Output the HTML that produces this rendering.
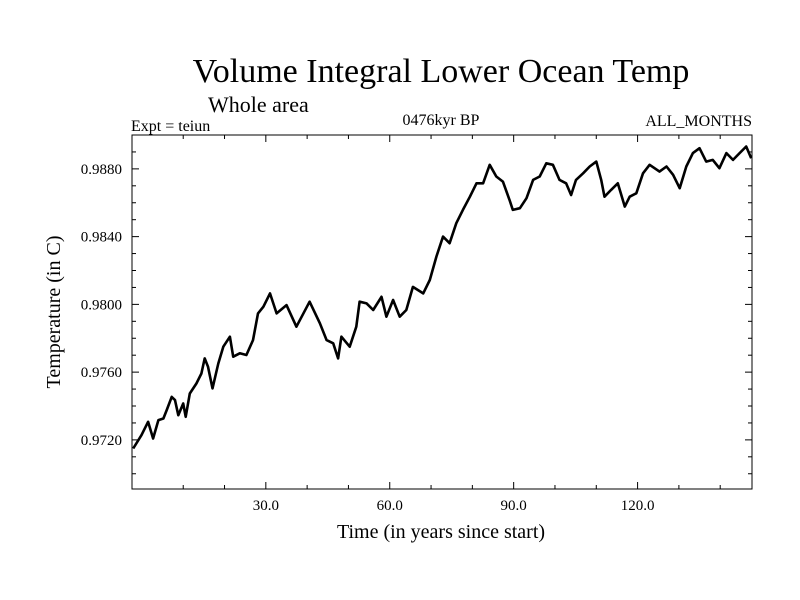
<!DOCTYPE html>
<html><head><meta charset="utf-8"><style>
body{margin:0;background:#fff}
svg{display:block;font-family:"Liberation Serif",serif}
</style></head><body>
<svg id="chart" width="800" height="600" viewBox="0 0 800 600">
<rect width="800" height="600" fill="#fff"/>
<text x="441" y="82" font-size="34" text-anchor="middle">Volume Integral Lower Ocean Temp</text>
<text x="208" y="112" font-size="22">Whole area</text>
<text x="131" y="131" font-size="16">Expt = teiun</text>
<text x="441" y="125" font-size="16" text-anchor="middle">0476kyr BP</text>
<text x="752" y="126" font-size="16" text-anchor="end">ALL_MONTHS</text>
<text x="441" y="538" font-size="20" text-anchor="middle">Time (in years since start)</text>
<text x="0" y="0" font-size="20" text-anchor="middle" transform="translate(60,312) rotate(-90)">Temperature (in C)</text>
<g id="axes"></g>
<path id="series" fill="none" stroke="#000" stroke-width="2.6" stroke-linejoin="round"/>
<rect x="132" y="135" width="620" height="354" fill="none" stroke="#000" stroke-width="1"/>
</svg>
<script>
const times=[-2.1,-0.1,1.5,2.7,4.0,5.2,6.0,7.2,8.0,8.8,10.0,10.6,11.6,13.2,14.4,15.2,16.0,17.1,18.5,19.7,21.3,22.1,23.7,25.3,26.9,28.1,29.4,31.0,32.6,35.0,37.4,40.6,43.1,44.7,46.3,47.5,48.3,50.3,51.9,52.7,54.4,56.0,58.0,59.2,60.8,62.4,64.0,65.6,68.1,69.7,71.3,72.9,74.5,76.1,77.7,79.4,81.0,82.6,84.2,85.8,87.4,89.0,89.8,91.5,93.1,94.7,96.3,97.9,99.5,101.1,102.7,103.9,105.1,106.8,108.4,110.0,111.2,112.0,113.6,115.2,116.9,118.1,119.7,121.3,122.9,125.3,127.0,128.6,130.2,131.8,133.4,135.0,136.6,138.2,139.8,141.5,143.1,144.7,146.3,147.5];
const temps=[0.97149,0.97228,0.97307,0.97208,0.97317,0.97326,0.97376,0.97454,0.97435,0.97346,0.97415,0.97336,0.97474,0.97533,0.97592,0.97681,0.97632,0.97504,0.97651,0.9775,0.97809,0.97691,0.97711,0.97701,0.97789,0.97947,0.97986,0.98065,0.97947,0.97996,0.97868,0.98016,0.97888,0.97789,0.9777,0.97681,0.97809,0.9775,0.97868,0.98016,0.98006,0.97967,0.98045,0.97927,0.98026,0.97927,0.97967,0.98103,0.98065,0.98144,0.98282,0.984,0.98361,0.98479,0.98558,0.98636,0.98715,0.98715,0.98824,0.98755,0.98725,0.98617,0.98558,0.98568,0.98627,0.98735,0.98755,0.98833,0.98824,0.98735,0.98715,0.98646,0.98735,0.98774,0.98814,0.98843,0.98735,0.98636,0.98676,0.98715,0.98577,0.98636,0.98656,0.98774,0.98824,0.98784,0.98814,0.98765,0.98686,0.98814,0.98893,0.98922,0.98843,0.98853,0.98804,0.98893,0.98853,0.98893,0.98932,0.98863];
const xMajorTicks=[30,60,90,120];
const xTickLabels=["30.0","60.0","90.0","120.0"];
const xMinorTicks=[10,20,40,50,70,80,100,110,130,140];
const yMajorTicks=[0.972,0.976,0.980,0.984,0.988];
const yTickLabels=["0.9720","0.9760","0.9800","0.9840","0.9880"];
const yMinorTicks=[0.970,0.971,0.973,0.974,0.975,0.977,0.978,0.979,0.981,0.982,0.983,0.985,0.986,0.987,0.989];

const L=132,R=752,T=135,B=489,XMIN=-2.4,XMAX=147.7,YMIN=0.9691,YMAX=0.9900;
const xs=v=>L+(v-XMIN)/(XMAX-XMIN)*(R-L);
const ys=v=>B-(v-YMIN)/(YMAX-YMIN)*(B-T);
const NS="http://www.w3.org/2000/svg";
const g=document.getElementById('axes');
function line(x1,y1,x2,y2,name){
  const l=document.createElementNS(NS,'line');
  l.setAttribute('x1',x1);l.setAttribute('y1',y1);l.setAttribute('x2',x2);l.setAttribute('y2',y2);
  l.setAttribute('stroke','#000');l.setAttribute('stroke-width','1');
  
  
  g.appendChild(l);
}
function text(x,y,s,anchor,name){
  const t=document.createElementNS(NS,'text');
  t.setAttribute('x',x);t.setAttribute('y',y);t.setAttribute('font-size','15');t.setAttribute('text-anchor',anchor);
  t.textContent=s;
  
  
  g.appendChild(t);
}
xMajorTicks.forEach((v,i)=>{const x=xs(v);line(x,B,x,B-7,'x-major-tick');line(x,T,x,T+7,'x-major-tick-top');text(x,510,xTickLabels[i],'middle','x-tick-label');});
xMinorTicks.forEach(v=>{const x=xs(v);line(x,B,x,B-4,'x-minor-tick');line(x,T,x,T+4,'x-minor-tick-top');});
yMajorTicks.forEach((v,i)=>{const y=ys(v);line(L,y,L+7,y,'y-major-tick');line(R,y,R-7,y,'y-major-tick-right');text(122,y+5,yTickLabels[i],'end','y-tick-label');});
yMinorTicks.forEach(v=>{const y=ys(v);line(L,y,L+4,y,'y-minor-tick');line(R,y,R-4,y,'y-minor-tick-right');});
let d='';
times.forEach((t,i)=>{d+=(i?'L':'M')+xs(t).toFixed(1)+','+ys(temps[i]).toFixed(1);});
document.getElementById('series').setAttribute('d',d);
</script>
</body></html>
